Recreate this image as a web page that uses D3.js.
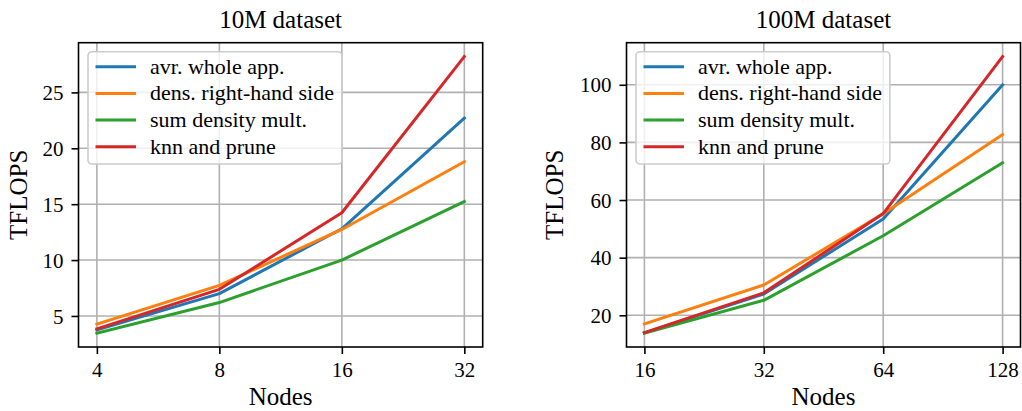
<!DOCTYPE html>
<html>
<head>
<meta charset="utf-8">
<script src="https://cdn.jsdelivr.net/npm/d3@7"></script>
<style>
  html, body { margin: 0; padding: 0; background: #fff; }
  svg { display: block; }
  text { font-family: "Liberation Serif", "Times New Roman", serif; fill: #000; }
</style>
</head>
<body>
<svg id="chart" width="1022" height="411"></svg>
<script>
// Series names and colours
const seriesNames = ["avr. whole app.", "dens. right-hand side", "sum density mult.", "knn and prune"];
const seriesColors = ["#1f77b4", "#ff7f0e", "#2ca02c", "#d62728"];

// 10M dataset
const nodes10M = [4, 8, 16, 32];
const avrWhole10M   = [3.75, 7.0, 12.8, 22.7];
const densRhs10M    = [4.26, 7.74, 12.74, 18.8];
const sumDensity10M = [3.46, 6.2, 10.0, 15.23];
const knnPrune10M   = [3.85, 7.38, 14.23, 28.21];
const yTicks10M = [5, 10, 15, 20, 25];

// 100M dataset
const nodes100M = [16, 32, 64, 128];
const avrWhole100M   = [13.9, 27.4, 53.4, 100.0];
const densRhs100M    = [17.0, 30.5, 55.25, 82.7];
const sumDensity100M = [13.8, 25.2, 47.6, 72.9];
const knnPrune100M   = [14.0, 27.8, 55.3, 109.8];
const yTicks100M = [20, 40, 60, 80, 100];

const panels = [
  { title: "10M dataset", nodes: nodes10M, series: [avrWhole10M, densRhs10M, sumDensity10M, knnPrune10M],
    yTicks: yTicks10M, left: 78.5, right: 482.7, ylabelX: 27 },
  { title: "100M dataset", nodes: nodes100M, series: [avrWhole100M, densRhs100M, sumDensity100M, knnPrune100M],
    yTicks: yTicks100M, left: 626.5, right: 1020.5, ylabelX: 563 }
];

const plotTop = 42.7, plotBottom = 347;
const svg = d3.select("#chart");

panels.forEach(p => {
  const g = svg.append("g");

  // log2 x axis with 5% margin on each side (in log space)
  const lo = d3.min(p.nodes), hi = d3.max(p.nodes);
  const span = Math.log2(hi) - Math.log2(lo);
  const x = d3.scaleLog().base(2)
    .domain([lo / Math.pow(2, 0.05 * span), hi * Math.pow(2, 0.05 * span)])
    .range([p.left, p.right]);

  // linear y axis with 5% margin
  const all = p.series.flat();
  const ymin = d3.min(all), ymax = d3.max(all);
  const pad = 0.05 * (ymax - ymin);
  const y = d3.scaleLinear().domain([ymin - pad, ymax + pad]).range([plotBottom, plotTop]);

  // grid
  g.append("g").selectAll("line").data(p.nodes).join("line")
    .attr("x1", d => x(d)).attr("x2", d => x(d))
    .attr("y1", plotTop).attr("y2", plotBottom)
    .attr("stroke", "#b0b0b0").attr("stroke-width", 1.6);
  g.append("g").selectAll("line").data(p.yTicks).join("line")
    .attr("x1", p.left).attr("x2", p.right)
    .attr("y1", d => y(d)).attr("y2", d => y(d))
    .attr("stroke", "#b0b0b0").attr("stroke-width", 1.6);

  // series lines
  const line = d3.line().x((d, i) => x(p.nodes[i])).y(d => y(d));
  p.series.forEach((s, i) => {
    g.append("path").datum(s)
      .attr("d", line)
      .attr("fill", "none")
      .attr("stroke", seriesColors[i])
      .attr("stroke-width", 3)
      .attr("stroke-linejoin", "round")
      .attr("stroke-linecap", "square");
  });

  // axes
  const xAxis = d3.axisBottom(x).tickValues(p.nodes).tickFormat(d3.format("d"))
    .tickSize(7).tickPadding(9);
  const gx = g.append("g").attr("transform", `translate(0,${plotBottom})`).call(xAxis);
  gx.select(".domain").remove();
  gx.selectAll(".tick line").attr("stroke", "#000").attr("stroke-width", 1.6);
  gx.selectAll(".tick text").attr("font-size", 21).attr("font-family", "Liberation Serif")
    .attr("dy", null).attr("y", 30);

  const yAxis = d3.axisLeft(y).tickValues(p.yTicks).tickFormat(d3.format("d"))
    .tickSize(7).tickPadding(8);
  const gy = g.append("g").attr("transform", `translate(${p.left},0)`).call(yAxis);
  gy.select(".domain").remove();
  gy.selectAll(".tick line").attr("stroke", "#000").attr("stroke-width", 1.6);
  gy.selectAll(".tick text").attr("font-size", 21).attr("font-family", "Liberation Serif")
    .attr("dy", "0.34em");

  // frame
  g.append("rect").attr("x", p.left).attr("y", plotTop)
    .attr("width", p.right - p.left).attr("height", plotBottom - plotTop)
    .attr("fill", "none").attr("stroke", "#000").attr("stroke-width", 1.6);

  // titles and labels
  g.append("text").attr("x", (p.left + p.right) / 2).attr("y", 28)
    .attr("text-anchor", "middle").attr("font-size", 25).text(p.title);
  g.append("text").attr("x", (p.left + p.right) / 2).attr("y", 405)
    .attr("text-anchor", "middle").attr("font-size", 25).text("Nodes");
  g.append("text")
    .attr("transform", `translate(${p.ylabelX},${(plotTop + plotBottom) / 2}) rotate(-90)`)
    .attr("text-anchor", "middle").attr("font-size", 25).text("TFLOPS");

  // legend
  const lg = g.append("g");
  const boxX = p.left + 9.5, boxY = plotTop + 9;
  const frame = lg.append("rect");
  const rowY0 = boxY + 15, rowStep = 26.7;
  let maxW = 0;
  seriesNames.forEach((name, i) => {
    const cy = rowY0 + i * rowStep;
    lg.append("line").attr("x1", boxX + 7.5).attr("x2", boxX + 48)
      .attr("y1", cy).attr("y2", cy)
      .attr("stroke", seriesColors[i]).attr("stroke-width", 3);
    const t = lg.append("text").attr("x", boxX + 62).attr("y", cy).attr("dy", "0.32em")
      .attr("font-size", 22).text(name);
    maxW = Math.max(maxW, t.node().getComputedTextLength());
  });
  frame.attr("x", boxX).attr("y", boxY)
    .attr("width", 62 + maxW + 8).attr("height", 112.3)
    .attr("rx", 4).attr("ry", 4)
    .attr("fill", "#fff").attr("fill-opacity", 0.8)
    .attr("stroke", "#cccccc").attr("stroke-width", 1.6);
});
</script>
</body>
</html>
